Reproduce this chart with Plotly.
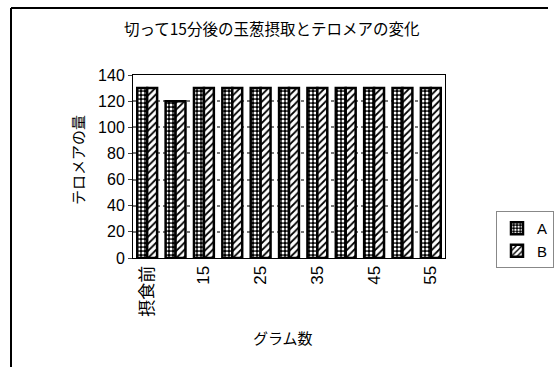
import plotly.graph_objects as go

categories = ["摂食前", "10", "15", "20", "25", "30", "35", "40", "45", "50", "55"]
series_a = [130, 120, 130, 130, 130, 130, 130, 130, 130, 130, 130]
series_b = [130, 120, 130, 130, 130, 130, 130, 130, 130, 130, 130]
tick_labels = ["摂食前", "15", "25", "35", "45", "55"]
y_ticks = [0, 20, 40, 60, 80, 100, 120, 140]

FONT = "Liberation Sans, Arial, Noto Sans CJK JP"
JP = "Noto Sans CJK JP"

L, T, PW, PH = 133, 75, 312, 183


def px(x):
    return (x - L) / PW


def py(y):
    return (T + PH - y) / PH


fig = go.Figure()
fig.add_trace(go.Bar(
    x=categories, y=series_a, name="A",
    marker=dict(color="black", line=dict(color="black", width=2.5),
                pattern=dict(shape=".", fgcolor="white", bgcolor="black",
                             size=4, solidity=0.45, fillmode="replace")),
))
fig.add_trace(go.Bar(
    x=categories, y=series_b, name="B",
    marker=dict(color="white", line=dict(color="black", width=2.5),
                pattern=dict(shape="/", fgcolor="black", bgcolor="white",
                             size=5, solidity=0.35, fillmode="replace")),
))

fig.update_layout(
    width=555, height=367,
    margin=dict(l=L, r=555 - L - PW, t=T, b=367 - T - PH, autoexpand=False),
    paper_bgcolor="white", plot_bgcolor="white",
    font=dict(family=FONT, size=15, color="black"),
    barmode="group", bargap=0.3, bargroupgap=0.0,
    showlegend=True,
    legend=dict(x=px(496), y=py(211), xanchor="left", yanchor="top",
                bordercolor="#888", borderwidth=1, bgcolor="white",
                font=dict(size=15), itemwidth=30, tracegroupgap=0),
    xaxis=dict(
        type="category", tickmode="array", tickvals=tick_labels, ticktext=tick_labels,
        tickangle=-90, showgrid=False, showline=True, linecolor="black", linewidth=1,
        ticks="", tickfont=dict(size=17), mirror=True, automargin=False,
    ),
    yaxis=dict(
        range=[0, 140], tickvals=y_ticks, showgrid=True, gridcolor="#777",
        griddash="dot", gridwidth=1.5, showline=True, linecolor="black", linewidth=1,
        ticks="outside", ticklen=4, tickfont=dict(size=16), mirror=True, automargin=False,
    ),
    annotations=[
        dict(text="切って15分後の玉葱摂取とテロメアの変化", xref="paper", yref="paper",
             x=px(271), y=py(28), showarrow=False, xanchor="center", yanchor="middle",
             font=dict(family=JP, size=15.5)),
        dict(text="グラム数", xref="paper", yref="paper",
             x=px(283), y=py(337), showarrow=False, xanchor="center", yanchor="middle",
             font=dict(family=JP, size=15)),
        dict(text="テロメアの量", xref="paper", yref="paper", textangle=-90,
             x=px(77), y=py(160), showarrow=False, xanchor="center", yanchor="middle",
             font=dict(family=JP, size=15)),
    ],
)

# outer chart border (left and top edges visible)
fig.add_shape(type="line", xref="paper", yref="paper",
              x0=px(11), y0=py(8), x1=px(11), y1=py(367), line=dict(color="black", width=2))
fig.add_shape(type="line", xref="paper", yref="paper",
              x0=px(11), y0=py(8), x1=px(548), y1=py(8), line=dict(color="black", width=2))

fig.write_html("out.html", config={"displayModeBar": False},
               post_script="document.body.style.margin='0';document.body.style.overflow='hidden';")
